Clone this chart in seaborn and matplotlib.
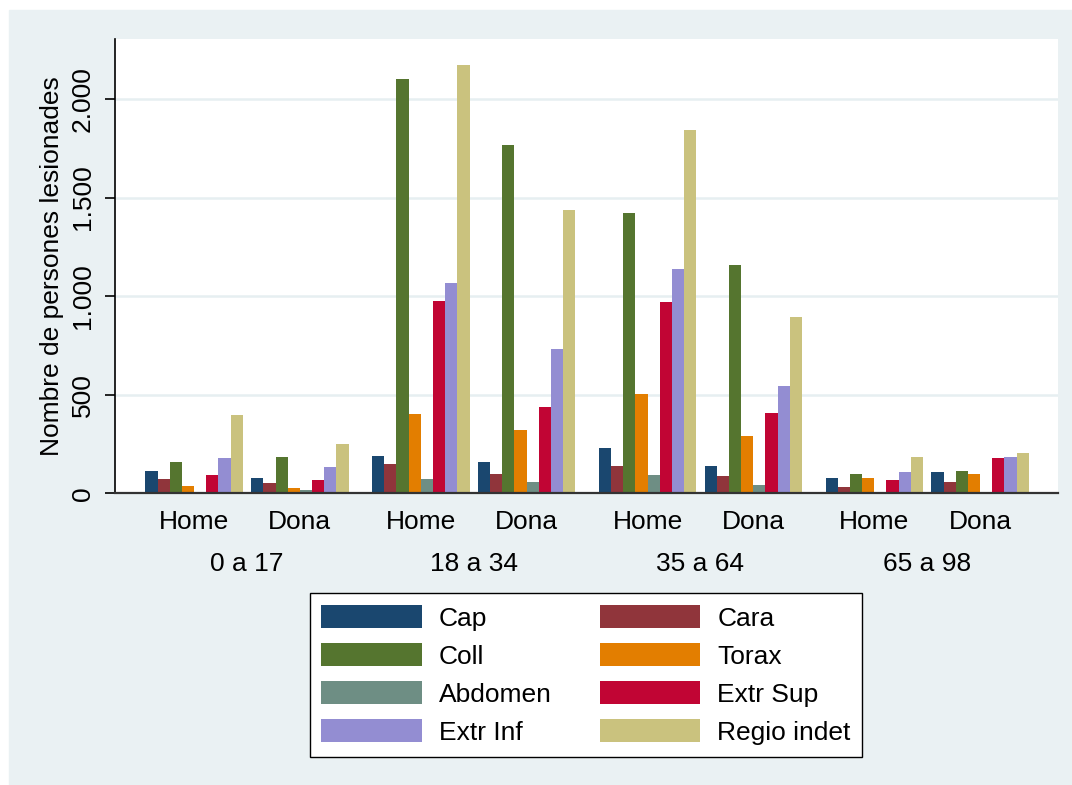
import numpy as np
import pandas as pd
import matplotlib
matplotlib.use('Agg')
import matplotlib.pyplot as plt
import matplotlib.transforms as mtransforms
from matplotlib.patches import Rectangle
from matplotlib.ticker import FuncFormatter
import seaborn as sns

# ------------------------------------------------------------------
# Data
# ------------------------------------------------------------------
age_groups = ['0 a 17', '18 a 34', '35 a 64', '65 a 98']
sexes      = ['Home', 'Dona']
parts      = ['Cap', 'Cara', 'Coll', 'Torax', 'Abdomen',
              'Extr Sup', 'Extr Inf', 'Regio indet']

# one value per (age group, sex) in the order 0-17 H, 0-17 D, 18-34 H, ...
cap         = [115,  79,  191,  157,  228,  137,  79, 108]
cara        = [ 71,  51,  149,  100,  137,   86,  30,  57]
coll        = [157, 184, 2100, 1767, 1420, 1160, 100, 115]
torax       = [ 36,  28,  404,  320,  502,  291,  79, 100]
abdomen     = [  8,  15,   71,   57,   93,   44,   8,   8]
extr_sup    = [ 93,  66,  977,  439,  969,  406,  66, 178]
extr_inf    = [178, 135, 1068,  730, 1138,  546, 107, 186]
regio_indet = [397, 249, 2171, 1435, 1844,  893, 186, 206]

colors = ['#1a476f', '#90353b', '#55752f', '#e37e00',
          '#6e8e84', '#c10534', '#938dd2', '#cac27e']
BG = '#eaf1f3'
GROUP_STEP = 2.144     # distance between age groups (Home->Dona = 1)

series = [cap, cara, coll, torax, abdomen, extr_sup, extr_inf, regio_indet]

# long-form table for seaborn
rows = []
for part, vals in zip(parts, series):
    for k, v in enumerate(vals):
        g, s = divmod(k, len(sexes))
        rows.append({'pos': g * GROUP_STEP + s, 'part': part, 'value': v,
                     'sex': sexes[s], 'age': age_groups[g]})
df = pd.DataFrame(rows)

# ------------------------------------------------------------------
# Plot
# ------------------------------------------------------------------
sns.set_theme(style='white')
plt.rcParams['font.family'] = ['Liberation Sans', 'DejaVu Sans']
plt.rcParams['text.color'] = 'black'
plt.rcParams['axes.labelcolor'] = 'black'

fig = plt.figure(figsize=(10.72, 7.85), dpi=100)
fig.patch.set_facecolor('white')
fig.patches.append(Rectangle((9 / 1072, 0), 1, 1 - 10 / 785,
                             transform=fig.transFigure, color=BG, zorder=-10))
ax = fig.add_axes([0.1076, 0.3716, 0.8794, 0.5787])
ax.set_facecolor('white')

sns.barplot(data=df, x='pos', y='value', hue='part', hue_order=parts,
            palette=colors, native_scale=True, width=0.921,
            errorbar=None, linewidth=0, saturation=1, ax=ax)

ax.set_xlim(-0.745, 8.17)
ax.set_ylim(0, 2304)

# y axis
ax.set_yticks([0, 500, 1000, 1500, 2000])
ax.yaxis.set_major_formatter(FuncFormatter(lambda v, _: f'{int(v):,}'.replace(',', '.')))
ax.tick_params(axis='y', length=7, width=1.2, color='black', pad=8,
               labelsize=19, labelcolor='black', left=True)
for lab in ax.get_yticklabels():
    lab.set_rotation(90)
    lab.set_va('center')
ax.set_ylabel('Nombre de persones lesionades', fontsize=19, color='black')
ax.yaxis.set_label_coords(-0.054, 0.5)
ax.yaxis.grid(True, color='#e6eff1', linewidth=1.8)
ax.xaxis.grid(False)
ax.set_axisbelow(True)

# x axis: sex labels as ticks, age groups underneath
xt = [g * GROUP_STEP + s for g in range(len(age_groups)) for s in range(len(sexes))]
ax.set_xticks(xt)
ax.set_xticklabels(sexes * len(age_groups))
ax.set_xlabel('')
ax.tick_params(axis='x', length=0, pad=12, labelsize=19, labelcolor='black')
trans = mtransforms.blended_transform_factory(ax.transData, ax.transAxes)
for g, name in enumerate(age_groups):
    ax.text(g * GROUP_STEP + 0.5, -0.155, name, transform=trans,
            ha='center', va='center', fontsize=19, color='black')

for side in ['top', 'right']:
    ax.spines[side].set_visible(False)
ax.spines['left'].set_color('black')
ax.spines['left'].set_linewidth(1.2)
ax.spines['bottom'].set_color('#333333')
ax.spines['bottom'].set_linewidth(1.6)

# legend, row-wise in two columns
handles, labels = ax.get_legend_handles_labels()
ax.get_legend().remove()
order = list(range(0, 8, 2)) + list(range(1, 8, 2))
leg = fig.legend([handles[i] for i in order], [labels[i] for i in order],
                 ncol=2, loc='upper center',
                 bbox_to_anchor=(586 / 1072, 1 - 593 / 785), borderaxespad=0,
                 fontsize=19, frameon=True, fancybox=False, framealpha=1,
                 labelcolor='black',
                 handlelength=3.8, handleheight=1.0, handletextpad=0.65,
                 columnspacing=1.82, labelspacing=0.46, borderpad=0.45)
leg.get_frame().set_edgecolor('black')
leg.get_frame().set_linewidth(1.0)
leg.get_frame().set_facecolor('white')

fig.savefig('out.png', dpi=100, facecolor=fig.get_facecolor())
